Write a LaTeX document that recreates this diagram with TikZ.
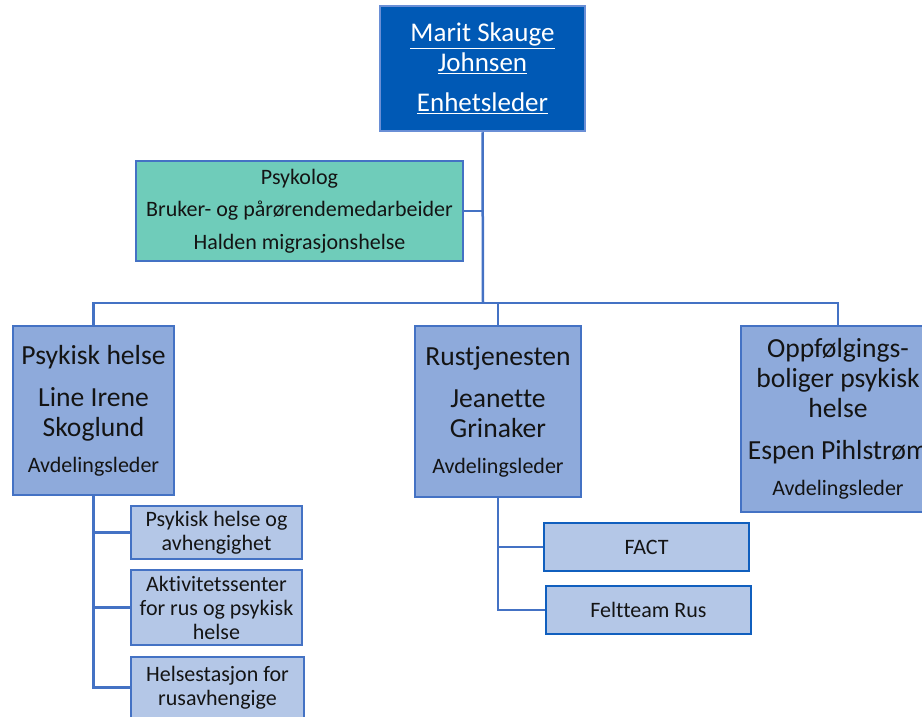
\documentclass[tikz,border=0pt]{standalone}
\usepackage{fontspec}
\setmainfont{Carlito}[Ligatures={NoCommon,TeX}]
\usetikzlibrary{positioning}

\definecolor{leaderblue}{RGB}{0,89,181}
\definecolor{leaderedge}{RGB}{106,143,214}
\definecolor{staffgreen}{RGB}{111,204,186}
\definecolor{edgeblue}{RGB}{68,114,196}
\definecolor{deptblue}{RGB}{142,170,219}
\definecolor{unitblue}{RGB}{180,199,231}
\definecolor{darkedge}{RGB}{16,95,190}
\definecolor{ink}{RGB}{20,20,20}

\tikzset{
  box/.style={draw=edgeblue, line width=2.5pt, inner sep=0pt, align=center, text=ink},
  leader/.style={box, fill=leaderblue, draw=leaderedge, text=white,
    font=\fontsize{27}{30}\selectfont},
  staff/.style={box, fill=staffgreen, font=\fontsize{22}{32.5}\selectfont},
  dept/.style={box, fill=deptblue, font=\fontsize{27.6}{30}\selectfont},
  unit/.style={box, fill=unitblue, font=\fontsize{22}{24}\selectfont},
  link/.style={draw=edgeblue, line width=2.5pt}
}
\newcommand{\role}[1]{{\fontsize{22}{22}\selectfont #1}}

\begin{document}
\begin{tikzpicture}[x=1pt, y=-1pt]
        \useasboundingbox (0, 0) rectangle (922, 717);
        \clip (0, 0) rectangle (922, 717);

        % leder
        \node[leader, minimum width=205pt, minimum height=125pt] (top) at (482.5, 68.5)
              {\underline{Marit Skauge}\\\underline{Johnsen}\\[10pt]\underline{Enhetsleder}};

        % stab
        \node[staff, minimum width=327pt, minimum height=100pt] (stab) at (299.5, 211)
              {Psykolog\\Bruker- og pårørendemedarbeider\\Halden migrasjonshelse};

        % avdelinger
        \node[dept, minimum width=161pt, minimum height=169pt] (psyk) at (93.5, 410.5)
              {Psykisk helse\\[12pt]Line Irene\\Skoglund\\[6pt]\role{Avdelingsleder}};
        \node[dept, minimum width=166pt, minimum height=171pt] (rus) at (498, 411.5)
              {Rustjenesten\\[12pt]Jeanette\\Grinaker\\[6pt]\role{Avdelingsleder}};
        \node[dept, minimum width=194pt, minimum height=186pt] (oppf) at (838, 419)
              {Oppfølgings-\\boliger psykisk\\helse\\[12pt]Espen Pihlstrøm\\[6pt]\role{Avdelingsleder}};

        % enheter under psykisk helse
        \node[unit, minimum width=171pt, minimum height=53pt] (avh) at (216.5, 532.5)
              {Psykisk helse og\\avhengighet};
        \node[unit, minimum width=171pt, minimum height=75pt] (akt) at (216.5, 607.5)
              {Aktivitetssenter\\for rus og psykisk\\helse};
        \node[unit, minimum width=173pt, minimum height=61pt] (hst) at (217.5, 687.5)
              {Helsestasjon for\\rusavhengige};

        % enheter under rustjenesten
        \node[unit, draw=darkedge, minimum width=205pt, minimum height=48pt] (fact) at (646.5, 547)
              {FACT};
        \node[unit, draw=darkedge, minimum width=205pt, minimum height=48pt] (felt) at (648.5, 610)
              {Feltteam Rus};

        \coordinate (bus) at (483, 303);

        \path[link] (top.south) -- (bus);
        \path[link] (stab.east) -- (stab.east -| top.south);
        \path[link] (psyk.north) |- (bus) -| (oppf.north);
        \path[link] (rus.north) -- (rus.north |- bus);
        \path[link] (psyk.south) |- (avh.west);
        \path[link] (psyk.south) |- (akt.west);
        \path[link] (psyk.south) |- (hst.west);
        \path[link] (rus.south) |- (fact.west);
        \path[link] (rus.south) |- (felt.west);
\end{tikzpicture}
\end{document}
